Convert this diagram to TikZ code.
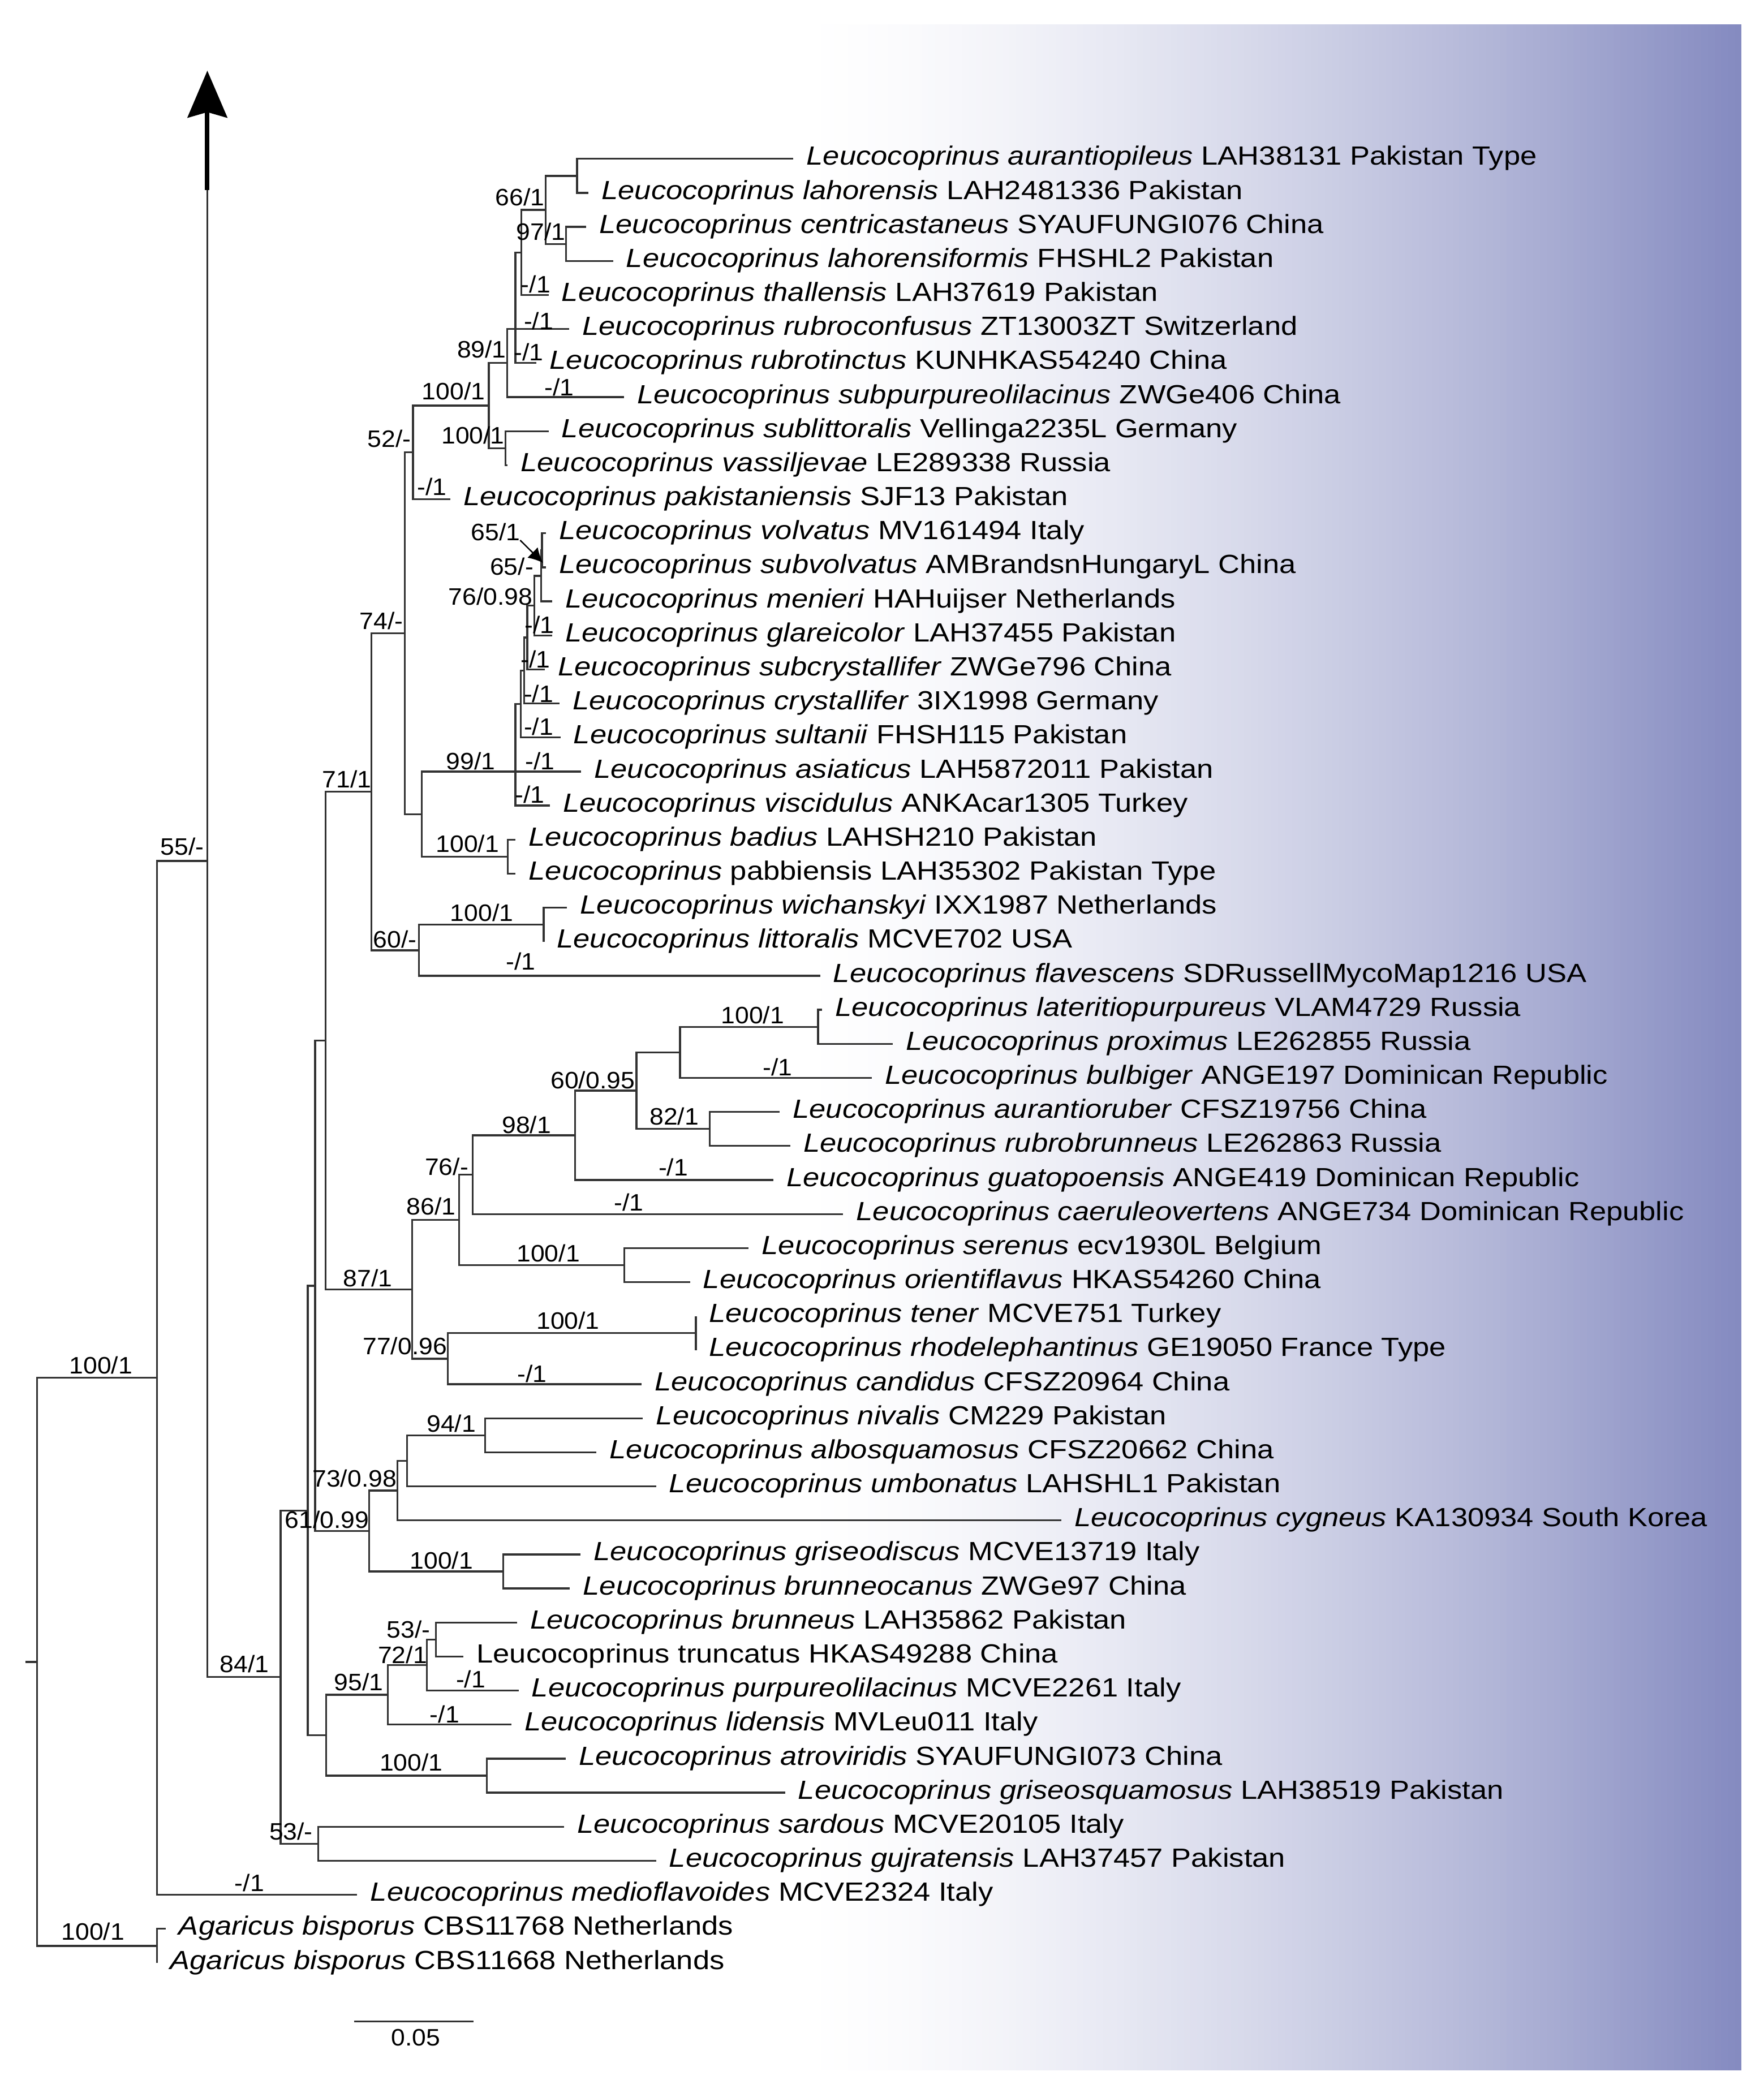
\documentclass[tikz,border=0pt]{standalone}
\usepackage{fontspec}
\setmainfont{Liberation Sans}
\newfontfamily\taxfont[FakeStretch=1.13]{Liberation Sans}
\newfontfamily\labfont[FakeStretch=1.06]{Liberation Sans}
\usetikzlibrary{calc,arrows.meta}
\definecolor{gradend}{RGB}{132,138,192}
\definecolor{linecol}{RGB}{50,50,50}
\newcommand{\tbranch}[2]{\draw[branch] (#1) |- (#2);}
\newcommand{\tx}[2]{\node[taxon] (n#1) at ($(t#1)+(9.5,4.7)$) {#2};}
\begin{document}
\begin{tikzpicture}[x=0.5pt,y=-0.5pt,
  branch/.style={draw=linecol,line width=0.7pt},
  taxon/.style={anchor=base west,inner sep=0pt,font=\taxfont\fontsize{9.85}{11}\selectfont},
  support/.style={anchor=center,inner sep=0pt,font=\labfont\fontsize{8.9}{10}\selectfont}]
\useasboundingbox (0,0) rectangle (1321,1568);
% background gradient
\foreach \i in {0,...,139}{
  \pgfmathsetmacro\xa{600+\i*5.0316}
  \pgfmathsetmacro\xb{min(\xa+5.6,1304.3)}
  \pgfmathsetmacro\pc{100*((\i+0.5)/140)^1.5}
  \fill[gradend!\pc!white] (\xa,18.4) rectangle (\xb,1551.1);
}
% tips
\coordinate (t1) at (594.3,119);
\coordinate (t2) at (440.8,144.5);
\coordinate (t3) at (439.0,170);
\coordinate (t4) at (459.2,195.5);
\coordinate (t5) at (410.9,221);
\coordinate (t6) at (426.3,246.5);
\coordinate (t7) at (401.9,272);
\coordinate (t8) at (467.4,297.5);
\coordinate (t9) at (410.9,323);
\coordinate (t10) at (380.2,348.5);
\coordinate (t11) at (337.4,374);
\coordinate (t12) at (409,399.5);
\coordinate (t13) at (409,425);
\coordinate (t14) at (413.5,450.5);
\coordinate (t15) at (413.5,476);
\coordinate (t16) at (408,501.5);
\coordinate (t17) at (419.2,527);
\coordinate (t18) at (419.8,552.5);
\coordinate (t19) at (435.3,578);
\coordinate (t20) at (411.8,603.5);
\coordinate (t21) at (386.2,629);
\coordinate (t22) at (386.2,654.5);
\coordinate (t23) at (424.8,680);
\coordinate (t24) at (407.3,705.5);
\coordinate (t25) at (614.3,731);
\coordinate (t26) at (615.8,756.5);
\coordinate (t27) at (668.7,782);
\coordinate (t28) at (653,807.5);
\coordinate (t29) at (584,833);
\coordinate (t30) at (592,858.5);
\coordinate (t31) at (579.2,884);
\coordinate (t32) at (631.6,909.5);
\coordinate (t33) at (560.8,935);
\coordinate (t34) at (516.8,960.5);
\coordinate (t35) at (521.3,986);
\coordinate (t36) at (521.3,1011.5);
\coordinate (t37) at (480.5,1037);
\coordinate (t38) at (481.6,1062.5);
\coordinate (t39) at (446.8,1088);
\coordinate (t40) at (491.4,1113.5);
\coordinate (t41) at (795,1139);
\coordinate (t42) at (434.7,1164.5);
\coordinate (t43) at (426.9,1190);
\coordinate (t44) at (387.2,1215.5);
\coordinate (t45) at (347.1,1241);
\coordinate (t46) at (388.4,1266.5);
\coordinate (t47) at (383.1,1292);
\coordinate (t48) at (423.7,1317.5);
\coordinate (t49) at (588,1343);
\coordinate (t50) at (422.5,1368.5);
\coordinate (t51) at (491.4,1394);
\coordinate (t52) at (267.6,1419.5);
\coordinate (t53) at (124,1445);
\coordinate (t54) at (117.5,1470.5);
% internal nodes
\coordinate (A) at (432.3,131.75);
\coordinate (C) at (424.1,182.75);
\coordinate (B) at (408.6,157.25);
\coordinate (D) at (390.4,189.1);
\coordinate (E) at (386.1,246.5);
\coordinate (F) at (379.8,272);
\coordinate (H) at (378.5,335.75);
\coordinate (G) at (366.2,303.9);
\coordinate (I) at (309.3,338.95);
\coordinate (K) at (406,412.25);
\coordinate (L) at (405.4,431.4);
\coordinate (M) at (400.3,453.7);
\coordinate (N) at (394.9,477.6);
\coordinate (O) at (392.7,502.3);
\coordinate (P) at (390.0,527.4);
\coordinate (Q) at (386.0,578);
\coordinate (S) at (380.4,641.75);
\coordinate (R) at (316.0,609.9);
\coordinate (J) at (303.1,474.4);
\coordinate (V) at (407.3,692.75);
\coordinate (U) at (313.7,711.9);
\coordinate (W) at (278.2,593.1);
\coordinate (AU) at (612.8,769.25);
\coordinate (AT) at (509.4,788.4);
\coordinate (AV) at (531.7,845.75);
\coordinate (AS) at (476.7,817.1);
\coordinate (AR) at (430.9,850.55);
\coordinate (AQ) at (354.2,880.0);
\coordinate (AW) at (467.7,947.75);
\coordinate (AP) at (343.8,913.9);
\coordinate (AY) at (521.3,998.75);
\coordinate (AX) at (335.5,1017.9);
\coordinate (AJ) at (308.7,965.9);
\coordinate (X) at (244.0,779.5);
\coordinate (AO) at (363.4,1075.25);
\coordinate (AN) at (305.0,1094.4);
\coordinate (AL) at (297.7,1116.7);
\coordinate (AM) at (377.0,1177.25);
\coordinate (AK) at (276.5,1147);
\coordinate (AI) at (236.0,963.25);
\coordinate (AH) at (326.4,1228.25);
\coordinate (AG) at (319.8,1247.4);
\coordinate (AE) at (290.6,1269.7);
\coordinate (AF) at (364.6,1330.25);
\coordinate (AD) at (244.4,1300);
\coordinate (AB) at (230.5,1131.6);
\coordinate (AC) at (238.3,1381.25);
\coordinate (AA) at (210.2,1256.4);
\coordinate (Z) at (155.3,645);
\coordinate (Y) at (117.7,1032.25);
\coordinate (AGn) at (117.5,1457.75);
\coordinate (root) at (27.8,1245);
\coordinate (rootstub) at (18.9,1245);
\coordinate (Ztop) at (155.3,142.6);
% branches
\tbranch{A}{t1}\tbranch{A}{t2}
\tbranch{C}{t3}\tbranch{C}{t4}
\tbranch{B}{A}\tbranch{B}{C}
\tbranch{D}{B}\tbranch{D}{t5}
\tbranch{E}{D}\tbranch{E}{t6}\tbranch{E}{t7}
\tbranch{F}{E}\tbranch{F}{t8}
\tbranch{H}{t9}\tbranch{H}{t10}
\tbranch{G}{F}\tbranch{G}{H}
\tbranch{I}{G}\tbranch{I}{t11}
\tbranch{K}{t12}\tbranch{K}{t13}
\tbranch{L}{K}\tbranch{L}{t14}
\tbranch{M}{L}\tbranch{M}{t15}
\tbranch{N}{M}\tbranch{N}{t16}
\tbranch{O}{N}\tbranch{O}{t17}
\tbranch{P}{O}\tbranch{P}{t18}
\tbranch{Q}{P}\tbranch{Q}{t19}\tbranch{Q}{t20}
\tbranch{S}{t21}\tbranch{S}{t22}
\tbranch{R}{Q}\tbranch{R}{S}
\tbranch{J}{I}\tbranch{J}{R}
\tbranch{V}{t23}\tbranch{V}{t24}
\tbranch{U}{V}\tbranch{U}{t25}
\tbranch{W}{J}\tbranch{W}{U}
\tbranch{AU}{t26}\tbranch{AU}{t27}
\tbranch{AT}{AU}\tbranch{AT}{t28}
\tbranch{AV}{t29}\tbranch{AV}{t30}
\tbranch{AS}{AT}\tbranch{AS}{AV}
\tbranch{AR}{AS}\tbranch{AR}{t31}
\tbranch{AQ}{AR}\tbranch{AQ}{t32}
\tbranch{AW}{t33}\tbranch{AW}{t34}
\tbranch{AP}{AQ}\tbranch{AP}{AW}
\tbranch{AY}{t35}\tbranch{AY}{t36}
\tbranch{AX}{AY}\tbranch{AX}{t37}
\tbranch{AJ}{AP}\tbranch{AJ}{AX}
\tbranch{X}{W}\tbranch{X}{AJ}
\tbranch{AO}{t38}\tbranch{AO}{t39}
\tbranch{AN}{AO}\tbranch{AN}{t40}
\tbranch{AL}{AN}\tbranch{AL}{t41}
\tbranch{AM}{t42}\tbranch{AM}{t43}
\tbranch{AK}{AL}\tbranch{AK}{AM}
\tbranch{AI}{X}\tbranch{AI}{AK}
\tbranch{AH}{t44}\tbranch{AH}{t45}
\tbranch{AG}{AH}\tbranch{AG}{t46}
\tbranch{AE}{AG}\tbranch{AE}{t47}
\tbranch{AF}{t48}\tbranch{AF}{t49}
\tbranch{AD}{AE}\tbranch{AD}{AF}
\tbranch{AB}{AI}\tbranch{AB}{AD}
\tbranch{AC}{t50}\tbranch{AC}{t51}
\tbranch{AA}{AB}\tbranch{AA}{AC}
\tbranch{Z}{AA}
\tbranch{Y}{Z}\tbranch{Y}{t52}
\tbranch{AGn}{t53}\tbranch{AGn}{t54}
\tbranch{root}{Y}\tbranch{root}{AGn}
\draw[branch] (rootstub) -- (root);
% arrow up from Z
\draw[branch] (Z) -- (Ztop);
\fill[black] (153.6,142.6) rectangle (157.0,84);
\fill[black] (155.3,53) -- (170.5,88.4) -- (155.3,84) -- (140.2,88.4) -- cycle;
% taxa
\tx{1}{\textit{Leucocoprinus aurantiopileus} LAH38131 Pakistan Type}
\tx{2}{\textit{Leucocoprinus lahorensis} LAH2481336 Pakistan}
\tx{3}{\textit{Leucocoprinus centricastaneus} SYAUFUNGI076 China}
\tx{4}{\textit{Leucocoprinus lahorensiformis} FHSHL2 Pakistan}
\tx{5}{\textit{Leucocoprinus thallensis} LAH37619 Pakistan}
\tx{6}{\textit{Leucocoprinus rubroconfusus} ZT13003ZT Switzerland}
\tx{7}{\textit{Leucocoprinus rubrotinctus} KUNHKAS54240 China}
\tx{8}{\textit{Leucocoprinus subpurpureolilacinus} ZWGe406 China}
\tx{9}{\textit{Leucocoprinus sublittoralis} Vellinga2235L Germany}
\tx{10}{\textit{Leucocoprinus vassiljevae} LE289338 Russia}
\tx{11}{\textit{Leucocoprinus pakistaniensis} SJF13 Pakistan}
\tx{12}{\textit{Leucocoprinus volvatus} MV161494 Italy}
\tx{13}{\textit{Leucocoprinus subvolvatus} AMBrandsnHungaryL China}
\tx{14}{\textit{Leucocoprinus menieri} HAHuijser Netherlands}
\tx{15}{\textit{Leucocoprinus glareicolor} LAH37455 Pakistan}
\tx{16}{\textit{Leucocoprinus subcrystallifer} ZWGe796 China}
\tx{17}{\textit{Leucocoprinus crystallifer} 3IX1998 Germany}
\tx{18}{\textit{Leucocoprinus sultanii} FHSH115 Pakistan}
\tx{19}{\textit{Leucocoprinus asiaticus} LAH5872011 Pakistan}
\tx{20}{\textit{Leucocoprinus viscidulus} ANKAcar1305 Turkey}
\tx{21}{\textit{Leucocoprinus badius} LAHSH210 Pakistan}
\tx{22}{\textit{Leucocoprinus} pabbiensis LAH35302 Pakistan Type}
\tx{23}{\textit{Leucocoprinus wichanskyi} IXX1987 Netherlands}
\tx{24}{\textit{Leucocoprinus littoralis} MCVE702 USA}
\tx{25}{\textit{Leucocoprinus flavescens} SDRussellMycoMap1216 USA}
\tx{26}{\textit{Leucocoprinus lateritiopurpureus} VLAM4729 Russia}
\tx{27}{\textit{Leucocoprinus proximus} LE262855 Russia}
\tx{28}{\textit{Leucocoprinus bulbiger} ANGE197 Dominican Republic}
\tx{29}{\textit{Leucocoprinus aurantioruber} CFSZ19756 China}
\tx{30}{\textit{Leucocoprinus rubrobrunneus} LE262863 Russia}
\tx{31}{\textit{Leucocoprinus guatopoensis} ANGE419 Dominican Republic}
\tx{32}{\textit{Leucocoprinus caeruleovertens} ANGE734 Dominican Republic}
\tx{33}{\textit{Leucocoprinus serenus} ecv1930L Belgium}
\tx{34}{\textit{Leucocoprinus orientiflavus} HKAS54260 China}
\tx{35}{\textit{Leucocoprinus tener} MCVE751 Turkey}
\tx{36}{\textit{Leucocoprinus rhodelephantinus} GE19050 France Type}
\tx{37}{\textit{Leucocoprinus candidus} CFSZ20964 China}
\tx{38}{\textit{Leucocoprinus nivalis} CM229 Pakistan}
\tx{39}{\textit{Leucocoprinus albosquamosus} CFSZ20662 China}
\tx{40}{\textit{Leucocoprinus umbonatus} LAHSHL1 Pakistan}
\tx{41}{\textit{Leucocoprinus cygneus} KA130934 South Korea}
\tx{42}{\textit{Leucocoprinus griseodiscus} MCVE13719 Italy}
\tx{43}{\textit{Leucocoprinus brunneocanus} ZWGe97 China}
\tx{44}{\textit{Leucocoprinus brunneus} LAH35862 Pakistan}
\tx{45}{Leucocoprinus truncatus HKAS49288 China}
\tx{46}{\textit{Leucocoprinus purpureolilacinus} MCVE2261 Italy}
\tx{47}{\textit{Leucocoprinus lidensis} MVLeu011 Italy}
\tx{48}{\textit{Leucocoprinus atroviridis} SYAUFUNGI073 China}
\tx{49}{\textit{Leucocoprinus griseosquamosus} LAH38519 Pakistan}
\tx{50}{\textit{Leucocoprinus sardous} MCVE20105 Italy}
\tx{51}{\textit{Leucocoprinus gujratensis} LAH37457 Pakistan}
\tx{52}{\textit{Leucocoprinus medioflavoides} MCVE2324 Italy}
\tx{53}{\textit{Agaricus bisporus} CBS11768 Netherlands}
\tx{54}{\textit{Agaricus bisporus} CBS11668 Netherlands}
% support values
\node[support] (sB) at (389.5,147.8) {66/1};
\node[support] (sC) at (405.1,173.5) {97/1};
\node[support] (s5) at (401.3,213) {-/1};
\node[support] (s6) at (403.5,240.6) {-/1};
\node[support] (s7) at (395.9,263.6) {-/1};
\node[support] (sF) at (360.8,261.7) {89/1};
\node[support] (s8) at (418.9,290.2) {-/1};
\node[support] (sG) at (339.7,293) {100/1};
\node[support] (sH) at (354.3,326.1) {100/1};
\node[support] (sI) at (291.5,328.8) {52/-};
\node[support] (s11) at (323.5,364.7) {-/1};
\node[support] (sK) at (371.3,398.7) {65/1};
\node[support] (sL) at (383.3,424.5) {65/-};
\node[support] (sM) at (367.5,446.9) {76/0.98};
\node[support] (s15) at (404,468.2) {-/1};
\node[support] (s16) at (401.2,494) {-/1};
\node[support] (s17) at (403.5,519.8) {-/1};
\node[support] (s18) at (403.5,544.5) {-/1};
\node[support] (s19) at (404.6,570.3) {-/1};
\node[support] (sR) at (352.7,570.3) {99/1};
\node[support] (s20) at (396.9,595) {-/1};
\node[support] (sS) at (350.2,632) {100/1};
\node[support] (sJ) at (285.7,464.9) {74/-};
\node[support] (sV) at (360.9,683.6) {100/1};
\node[support] (sU) at (295.8,703.7) {60/-};
\node[support] (s25) at (390,720) {-/1};
\node[support] (sW) at (259.8,583.7) {71/1};
\node[support] (sZ) at (136.4,634.3) {55/-};
\node[support] (sAU) at (563.8,760.6) {100/1};
\node[support] (s28) at (582.4,799.5) {-/1};
\node[support] (sAS) at (444,809) {60/0.95};
\node[support] (sAV) at (505,836.4) {82/1};
\node[support] (sAR) at (394.4,842.8) {98/1};
\node[support] (s31) at (504.3,874.4) {-/1};
\node[support] (sAQ) at (334.6,874) {76/-};
\node[support] (s32) at (471,900.7) {-/1};
\node[support] (sAP) at (323,903.9) {86/1};
\node[support] (sAW) at (410.7,938.7) {100/1};
\node[support] (sAJ) at (275.4,957.6) {87/1};
\node[support] (sAY) at (425.5,989.3) {100/1};
\node[support] (sAX) at (303.3,1008.2) {77/0.96};
\node[support] (s37) at (398.6,1029.3) {-/1};
\node[support] (sAO) at (338,1066.5) {94/1};
\node[support] (sAL) at (265.6,1107.7) {73/0.98};
\node[support] (sAK) at (244.9,1138.6) {61/0.99};
\node[support] (sAM) at (330.7,1168.8) {100/1};
\node[support] (sAH) at (306,1220.7) {53/-};
\node[support] (sAG) at (301.5,1239.6) {72/1};
\node[support] (sAE) at (268.6,1260) {95/1};
\node[support] (s46) at (352.6,1257.9) {-/1};
\node[support] (s47) at (333,1284.1) {-/1};
\node[support] (sAF) at (308,1320.3) {100/1};
\node[support] (sAC) at (218,1372) {53/-};
\node[support] (sY) at (75.6,1022.8) {100/1};
\node[support] (sAA) at (183,1246.4) {84/1};
\node[support] (s52) at (186.8,1410.6) {-/1};
\node[support] (sAGn) at (69.6,1447) {100/1};
% arrow pointing at node K
\coordinate (arrS) at (389.6,404.7);
\coordinate (arrE) at (406.8,421.7);
\draw[black,line width=0.5pt,-{Latex[length=5.5pt,width=5.5pt]}] (arrS) -- (arrE);
% scale bar
\coordinate (sbL) at (265.3,1514.4);
\coordinate (sbR) at (354.9,1514.4);
\draw[branch] (sbL) -- (sbR);
\node[support] (sblab) at (311.5,1526.4) {0.05};
\end{tikzpicture}
\end{document}
